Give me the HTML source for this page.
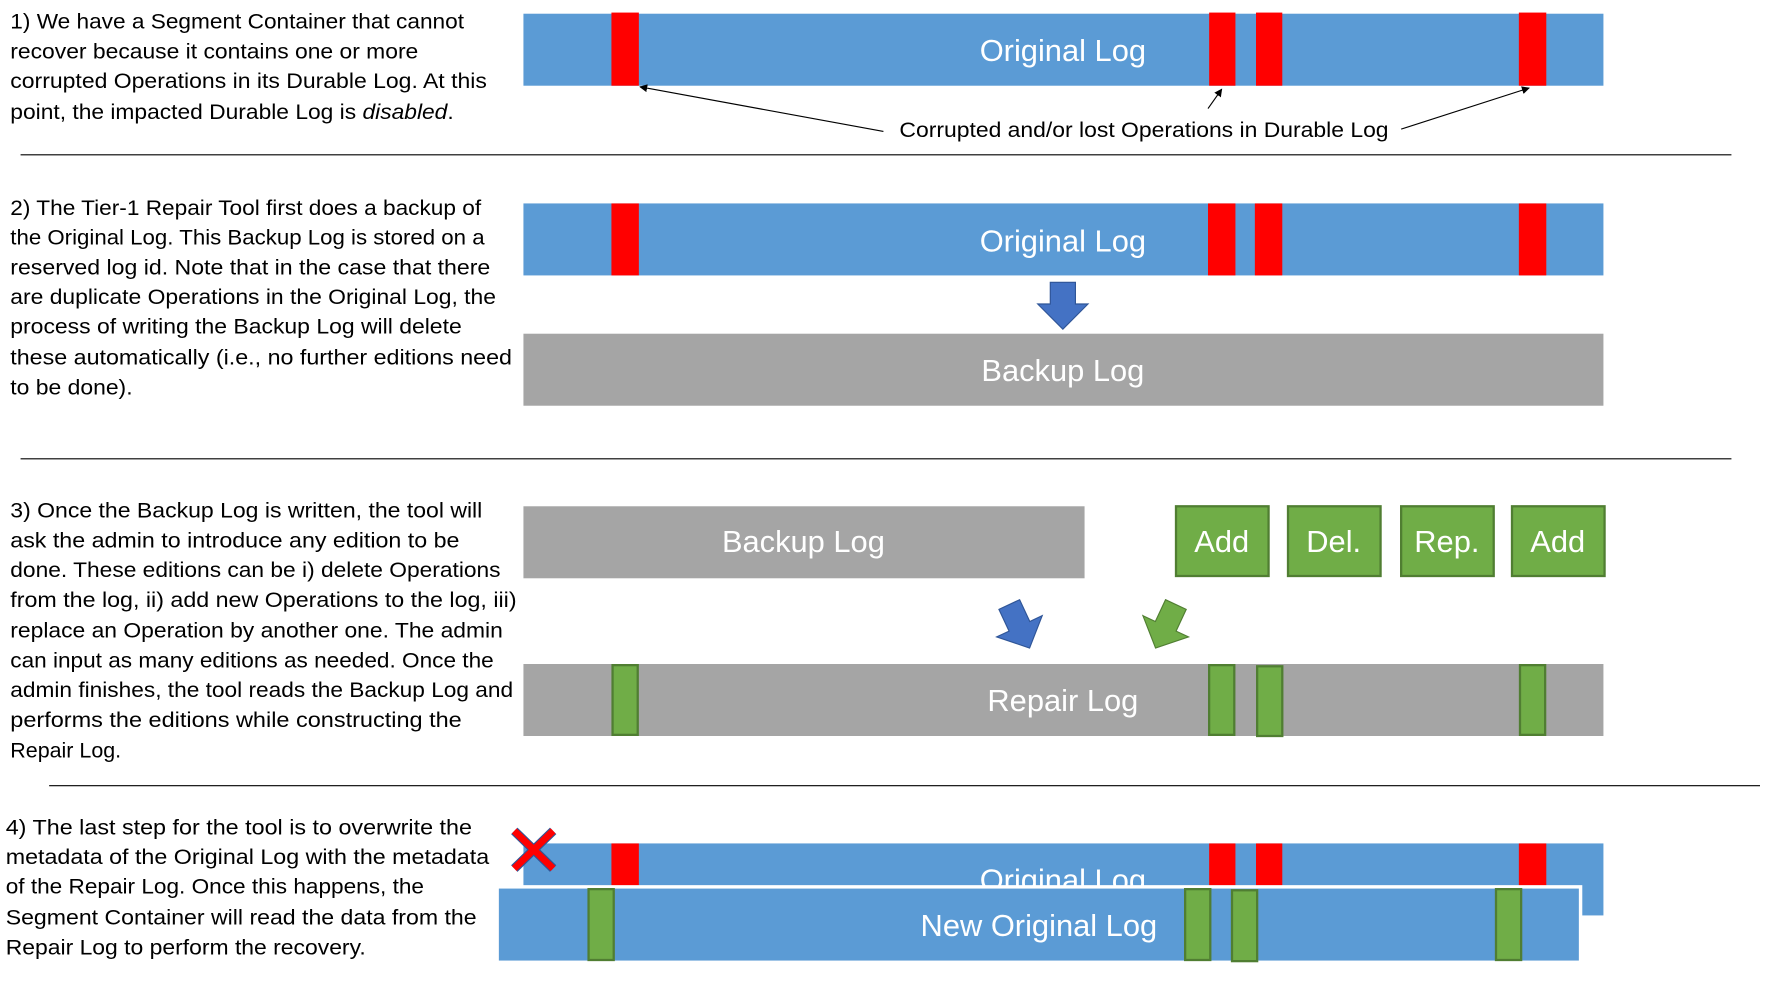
<!DOCTYPE html>
<html><head><meta charset="utf-8"><style>
html,body{margin:0;padding:0;background:#fff;width:1792px;height:1000px;overflow:hidden}
svg{display:block}
.t{font-family:"Liberation Sans",sans-serif;font-size:18.5px;fill:#000}
.lb{font-family:"Liberation Sans",sans-serif;font-size:27px;fill:#fff;text-anchor:middle;dominant-baseline:central}
</style></head><body>
<svg width="1792" height="1000" viewBox="0 0 1568 875" xmlns="http://www.w3.org/2000/svg">
<defs><marker id="ah" viewBox="0 0 10 10" refX="9" refY="5" markerWidth="7" markerHeight="7" orient="auto"><path d="M0,0L10,5L0,10z" fill="#000"/></marker></defs>

<!-- Section 1 -->
<g class="t">
<text x="9" y="25" textLength="397" lengthAdjust="spacingAndGlyphs">1) We have a Segment Container that cannot</text>
<text x="9" y="51" textLength="357" lengthAdjust="spacingAndGlyphs">recover because it contains one or more</text>
<text x="9" y="77" textLength="417" lengthAdjust="spacingAndGlyphs">corrupted Operations in its Durable Log. At this</text>
<text x="9" y="104" textLength="388" lengthAdjust="spacingAndGlyphs">point, the impacted Durable Log is <tspan font-style="italic">disabled</tspan>.</text>
</g>
<g>
<rect x="458" y="12" width="945" height="63" fill="#5b9bd5"/>
<rect x="535" y="11" width="24" height="64" fill="#ff0000"/>
<rect x="1058" y="11" width="23" height="64" fill="#ff0000"/>
<rect x="1099" y="11" width="23" height="64" fill="#ff0000"/>
<rect x="1329" y="11" width="24" height="64" fill="#ff0000"/>
<text class="lb" x="930" y="44">Original Log</text>
</g>
<text class="t" x="787" y="120" textLength="428" lengthAdjust="spacingAndGlyphs">Corrupted and/or lost Operations in Durable Log</text>
<g stroke="#000" stroke-width="1" fill="none">
<line x1="773" y1="115" x2="560" y2="76" marker-end="url(#ah)"/>
<line x1="1057" y1="95" x2="1069" y2="78" marker-end="url(#ah)"/>
<line x1="1226" y1="113" x2="1338" y2="77" marker-end="url(#ah)"/>
</g>
<line x1="18" y1="135.5" x2="1515" y2="135.5" stroke="#000" stroke-width="1"/>

<!-- Section 2 -->
<g class="t">
<text x="9" y="188" textLength="412" lengthAdjust="spacingAndGlyphs">2) The Tier-1 Repair Tool first does a backup of</text>
<text x="9" y="214" textLength="415" lengthAdjust="spacingAndGlyphs">the Original Log. This Backup Log is stored on a</text>
<text x="9" y="240" textLength="420" lengthAdjust="spacingAndGlyphs">reserved log id. Note that in the case that there</text>
<text x="9" y="266" textLength="425" lengthAdjust="spacingAndGlyphs">are duplicate Operations in the Original Log, the</text>
<text x="9" y="292" textLength="395" lengthAdjust="spacingAndGlyphs">process of writing the Backup Log will delete</text>
<text x="9" y="319" textLength="439" lengthAdjust="spacingAndGlyphs">these automatically (i.e., no further editions need</text>
<text x="9" y="345" textLength="107" lengthAdjust="spacingAndGlyphs">to be done).</text>
</g>
<g>
<rect x="458" y="178" width="945" height="63" fill="#5b9bd5"/>
<rect x="535" y="178" width="24" height="63" fill="#ff0000"/>
<rect x="1057" y="178" width="24" height="63" fill="#ff0000"/>
<rect x="1098" y="178" width="24" height="63" fill="#ff0000"/>
<rect x="1329" y="178" width="24" height="63" fill="#ff0000"/>
<text class="lb" x="930" y="211">Original Log</text>
</g>
<polygon points="919,247 941,247 941,266 952,266 930,288 908,266 919,266" fill="#4472c4" stroke="#2f5597" stroke-width="1"/>
<g>
<rect x="458" y="292" width="945" height="63" fill="#a5a5a5"/>
<text class="lb" x="930" y="324">Backup Log</text>
</g>
<line x1="18" y1="401.5" x2="1515" y2="401.5" stroke="#000" stroke-width="1"/>

<!-- Section 3 -->
<g class="t">
<text x="9" y="453" textLength="413" lengthAdjust="spacingAndGlyphs">3) Once the Backup Log is written, the tool will</text>
<text x="9" y="479" textLength="393" lengthAdjust="spacingAndGlyphs">ask the admin to introduce any edition to be</text>
<text x="9" y="505" textLength="429" lengthAdjust="spacingAndGlyphs">done. These editions can be i) delete Operations</text>
<text x="9" y="531" textLength="443" lengthAdjust="spacingAndGlyphs">from the log, ii) add new Operations to the log, iii)</text>
<text x="9" y="558" textLength="431" lengthAdjust="spacingAndGlyphs">replace an Operation by another one. The admin</text>
<text x="9" y="584" textLength="423" lengthAdjust="spacingAndGlyphs">can input as many editions as needed. Once the</text>
<text x="9" y="610" textLength="440" lengthAdjust="spacingAndGlyphs">admin finishes, the tool reads the Backup Log and</text>
<text x="9" y="636" textLength="395" lengthAdjust="spacingAndGlyphs">performs the editions while constructing the</text>
<text x="9" y="663" textLength="97" lengthAdjust="spacingAndGlyphs">Repair Log.</text>
</g>
<g>
<rect x="458" y="443" width="491" height="63" fill="#a5a5a5"/>
<text class="lb" x="703" y="474">Backup Log</text>
</g>
<g><rect x="1029" y="443" width="81" height="61" fill="#70ad47" stroke="#507e32" stroke-width="2"/><text class="lb" x="1069" y="474">Add</text></g>
<g><rect x="1127" y="443" width="81" height="61" fill="#70ad47" stroke="#507e32" stroke-width="2"/><text class="lb" x="1167" y="474">Del.</text></g>
<g><rect x="1226" y="443" width="81" height="61" fill="#70ad47" stroke="#507e32" stroke-width="2"/><text class="lb" x="1266" y="474">Rep.</text></g>
<g><rect x="1323" y="443" width="81" height="61" fill="#70ad47" stroke="#507e32" stroke-width="2"/><text class="lb" x="1363" y="474">Add</text></g>
<polygon transform="translate(892,548) rotate(-25)" points="-10,-21 10,-21 10,0 22,0 0,21 -22,0 -10,0" fill="#4472c4" stroke="#2f5597" stroke-width="1"/>
<polygon transform="translate(1020,548) rotate(25)" points="-10,-21 10,-21 10,0 22,0 0,21 -22,0 -10,0" fill="#70ad47" stroke="#507e32" stroke-width="1"/>
<g>
<rect x="458" y="581" width="945" height="63" fill="#a5a5a5"/>
<rect x="536" y="582" width="22" height="61" fill="#70ad47" stroke="#507e32" stroke-width="2"/>
<rect x="1058" y="582" width="22" height="61" fill="#70ad47" stroke="#507e32" stroke-width="2"/>
<rect x="1100" y="583" width="22" height="61" fill="#70ad47" stroke="#507e32" stroke-width="2"/>
<rect x="1330" y="582" width="22" height="61" fill="#70ad47" stroke="#507e32" stroke-width="2"/>
<text class="lb" x="930" y="613">Repair Log</text>
</g>
<line x1="43" y1="687.5" x2="1540" y2="687.5" stroke="#000" stroke-width="1"/>

<!-- Section 4 -->
<g class="t">
<text x="5" y="730" textLength="408" lengthAdjust="spacingAndGlyphs">4) The last step for the tool is to overwrite the</text>
<text x="5" y="756" textLength="423" lengthAdjust="spacingAndGlyphs">metadata of the Original Log with the metadata</text>
<text x="5" y="782" textLength="366" lengthAdjust="spacingAndGlyphs">of the Repair Log. Once this happens, the</text>
<text x="5" y="809" textLength="412" lengthAdjust="spacingAndGlyphs">Segment Container will read the data from the</text>
<text x="5" y="835" textLength="315" lengthAdjust="spacingAndGlyphs">Repair Log to perform the recovery.</text>
</g>
<g>
<rect x="458" y="738" width="945" height="63" fill="#5b9bd5"/>
<rect x="535" y="738" width="24" height="40" fill="#ff0000"/>
<rect x="1058" y="738" width="23" height="40" fill="#ff0000"/>
<rect x="1099" y="738" width="23" height="40" fill="#ff0000"/>
<rect x="1329" y="738" width="24" height="40" fill="#ff0000"/>
<text class="lb" x="930" y="770">Original Log</text>
</g>
<g>
<rect x="435" y="776" width="948" height="66" fill="#5b9bd5" stroke="#fff" stroke-width="3"/>
<rect x="515" y="778" width="22" height="62" fill="#70ad47" stroke="#507e32" stroke-width="2"/>
<rect x="1037" y="778" width="22" height="62" fill="#70ad47" stroke="#507e32" stroke-width="2"/>
<rect x="1078" y="779" width="22" height="62" fill="#70ad47" stroke="#507e32" stroke-width="2"/>
<rect x="1309" y="778" width="22" height="62" fill="#70ad47" stroke="#507e32" stroke-width="2"/>
<text class="lb" x="909" y="810">New Original Log</text>
</g>
<g stroke-linecap="butt">
<line x1="450" y1="727" x2="484" y2="760" stroke="#2f5597" stroke-width="8"/>
<line x1="484" y1="727" x2="450" y2="760" stroke="#2f5597" stroke-width="8"/>
<line x1="450" y1="727" x2="484" y2="760" stroke="#ff0000" stroke-width="6"/>
<line x1="484" y1="727" x2="450" y2="760" stroke="#ff0000" stroke-width="6"/>
</g>
</svg>
</body></html>
